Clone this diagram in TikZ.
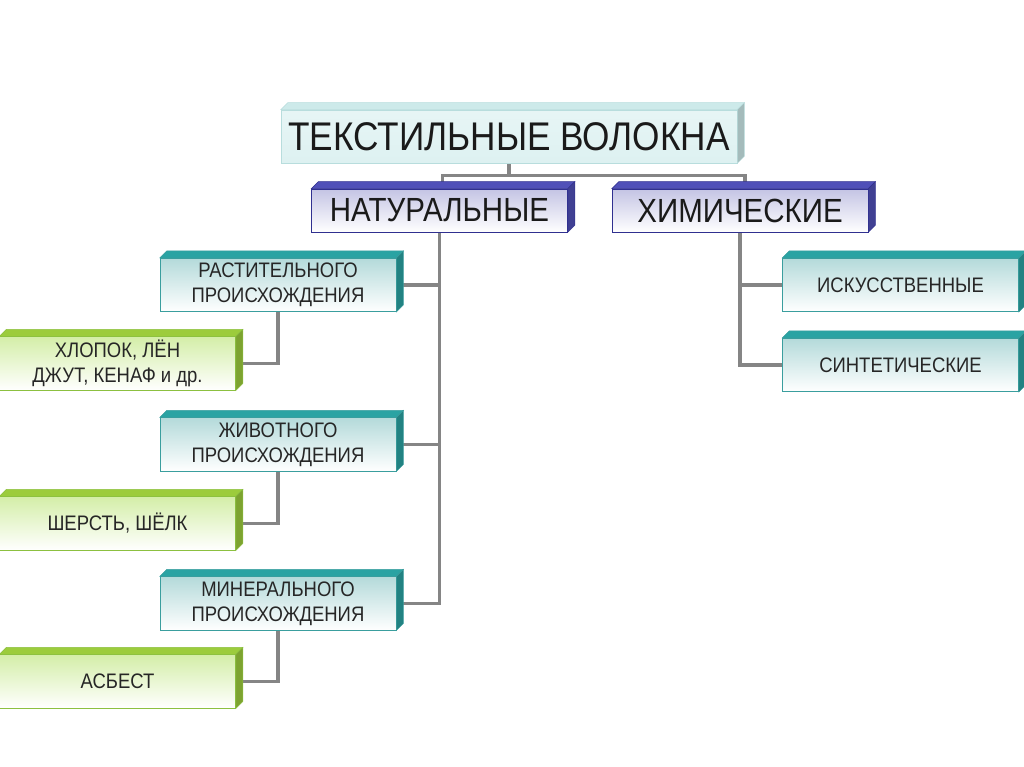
\documentclass[tikz,border=0pt]{standalone}
\usepackage{fontspec}
\setmainfont[FakeStretch=0.88]{Liberation Sans}
\usetikzlibrary{backgrounds,calc}
\definecolor{txt}{HTML}{1A1A1A}
\definecolor{stxt}{HTML}{262626}
\definecolor{conn}{HTML}{858585}
\definecolor{tealF}{HTML}{B4DADA}
\definecolor{tealT}{HTML}{2AA3A3}
\definecolor{tealE}{HTML}{3A9E9E}
\definecolor{blueF}{HTML}{C4C4E4}
\definecolor{blueT}{HTML}{5050B8}
\definecolor{blueE}{HTML}{303090}
\definecolor{greenF}{HTML}{D4EEA8}
\definecolor{greenT}{HTML}{9CCC3C}
\definecolor{greenE}{HTML}{8CC040}
\definecolor{headF}{HTML}{DDF1F1}
\definecolor{headT}{HTML}{CDEAEA}
\definecolor{headE}{HTML}{B8DDDD}
\newcommand\bev[3]{%
  \filldraw[fill=#2, draw=#3, line width=0.5pt]
    (#1.north west) -- ([xshift=7pt,yshift=7pt]#1.north west)
    -- ([xshift=7pt,yshift=7pt]#1.north east) -- (#1.north east) -- cycle;
  \filldraw[fill=#2!80!black, draw=#3, line width=0.5pt]
    (#1.north east) -- ([xshift=7pt,yshift=7pt]#1.north east)
    -- ([xshift=7pt,yshift=7pt]#1.south east) -- (#1.south east) -- cycle;
}
\tikzset{
  box/.style={rectangle, draw, line width=0.6pt, inner sep=0pt, align=center, text=txt},
  small/.style={box, text=stxt, minimum width=236pt, minimum height=53.5pt, font=\fontsize{21}{25}\selectfont},
  tealbox/.style={small, draw=tealE, top color=tealF, bottom color=white},
  greenbox/.style={small, draw=greenE, top color=greenF, bottom color=white},
  bluebox/.style={box, draw=blueE, top color=blueF, bottom color=white, minimum width=256pt, minimum height=43pt, font=\fontsize{33.5}{36}\selectfont},
  headbox/.style={box, draw=headE, top color=headF!70!white, bottom color=headF, minimum width=456pt, minimum height=53pt, font=\fontsize{40}{44}\selectfont},
  link/.style={draw=conn, line width=3.5pt}
}
\begin{document}
\begin{tikzpicture}[x=1pt,y=-1pt]
\useasboundingbox (0,0) rectangle (1024,767);
% nodes
\node[headbox] (top) at (509,136.5) {ТЕКСТИЛЬНЫЕ ВОЛОКНА};
\bev{top}{headT}{headE}
\node[bluebox] (nat) at (439.5,210.5) {НАТУРАЛЬНЫЕ};
\bev{nat}{blueT}{blueE}
\node[bluebox] (chem) at (740,210.5) {ХИМИЧЕСКИЕ};
\bev{chem}{blueT}{blueE}
\node[tealbox] (rast) at (278,285) {РАСТИТЕЛЬНОГО\\ПРОИСХОЖДЕНИЯ};
\bev{rast}{tealT}{tealE}
\node[tealbox] (zhiv) at (278,444.5) {ЖИВОТНОГО\\ПРОИСХОЖДЕНИЯ};
\bev{zhiv}{tealT}{tealE}
\node[tealbox] (miner) at (278,603.5) {МИНЕРАЛЬНОГО\\ПРОИСХОЖДЕНИЯ};
\bev{miner}{tealT}{tealE}
\node[greenbox] (hlop) at (117.5,363.5) {ХЛОПОК, ЛЁН\\ДЖУТ, КЕНАФ и др.};
\bev{hlop}{greenT}{greenE}
\node[greenbox] (sherst) at (117.5,523.5) {ШЕРСТЬ, ШЁЛК};
\bev{sherst}{greenT}{greenE}
\node[greenbox] (asb) at (117.5,681.5) {АСБЕСТ};
\bev{asb}{greenT}{greenE}
\node[tealbox] (isk) at (900.5,285) {ИСКУССТВЕННЫЕ};
\bev{isk}{tealT}{tealE}
\node[tealbox] (sint) at (900.5,365) {СИНТЕТИЧЕСКИЕ};
\bev{sint}{tealT}{tealE}
% connectors
\begin{scope}[on background layer]
\coordinate (fork) at ($(top.south)+(0,12)$);
\path[link] (top.south) -- (fork);
\path[link] (fork) -| ([xshift=3pt]nat.north);
\path[link] (fork) -| ([xshift=5pt]chem.north);
\path[link] (nat.south) |- (rast.east);
\path[link] (nat.south) |- (zhiv.east);
\path[link] (nat.south) |- (miner.east);
\path[link] (rast.south) |- (hlop.east);
\path[link] (zhiv.south) |- (sherst.east);
\path[link] (miner.south) |- (asb.east);
\path[link] (chem.south) |- (isk.west);
\path[link] (chem.south) |- (sint.west);
\end{scope}
\end{tikzpicture}
\end{document}
